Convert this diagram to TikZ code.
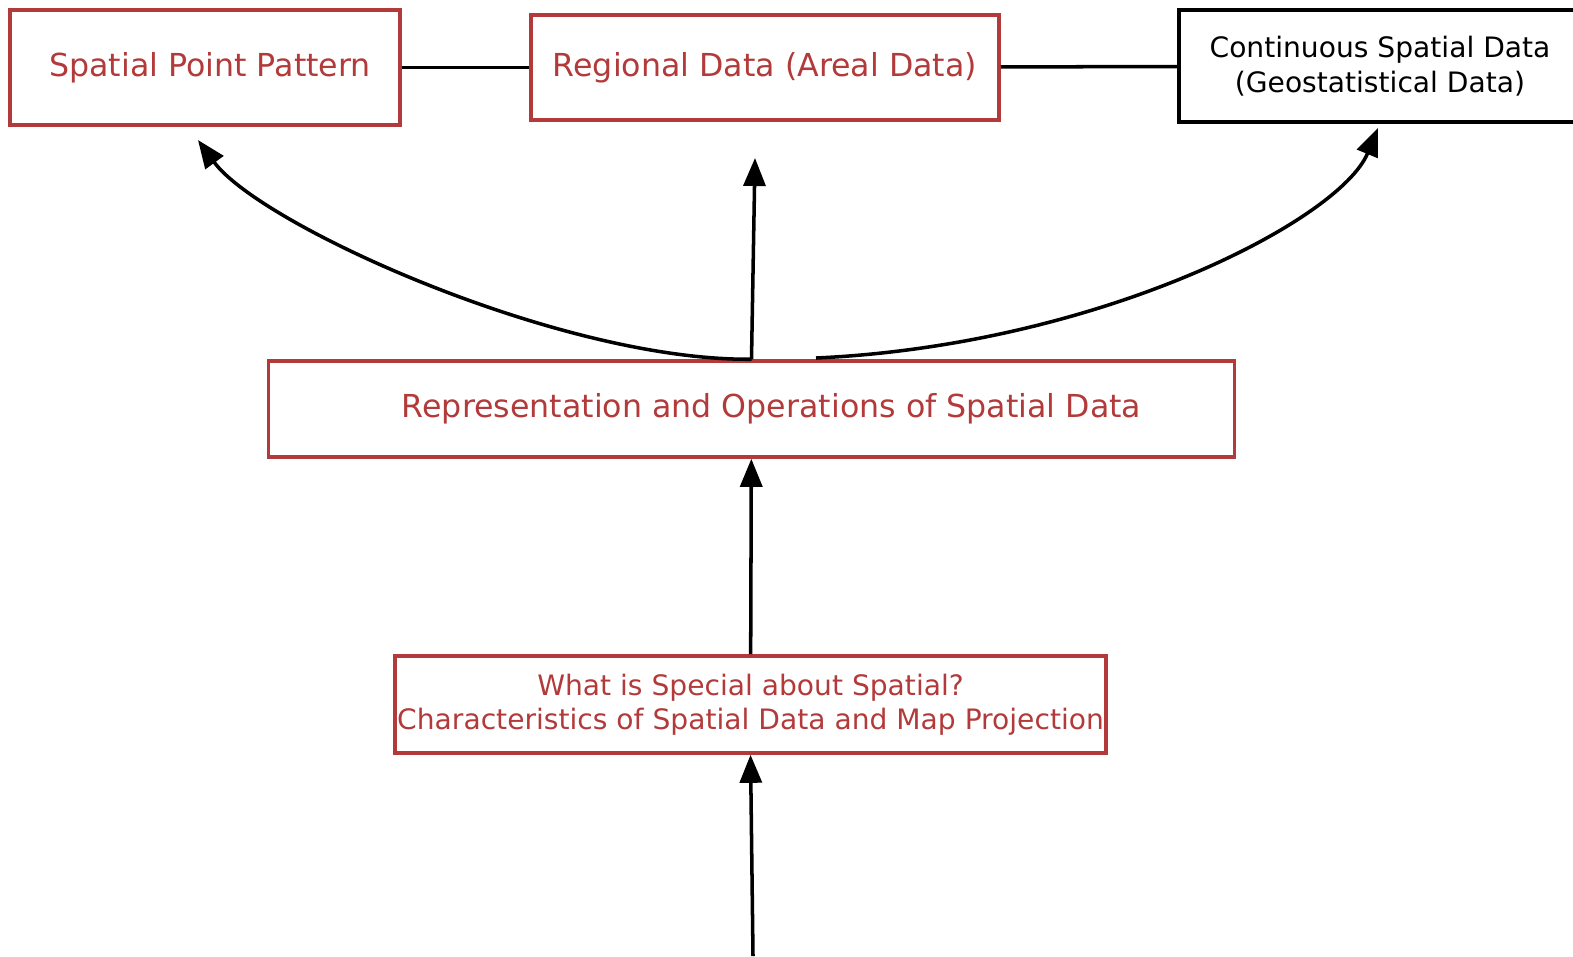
\documentclass[tikz,border=0pt]{standalone}
\usepackage{fontspec}
\setmainfont{DejaVu Sans}
\usepackage{tikz}
\usetikzlibrary{arrows.meta}
\definecolor{topicred}{RGB}{178,58,58}
\tikzstyle{topic} = [draw=topicred, text=topicred, line width=1pt, align=center, inner sep=0pt, font=\fontsize{9}{10.5}\selectfont]
\tikzstyle{plain} = [draw=black, text=black, line width=1pt, align=center, inner sep=0pt, font=\fontsize{8}{10}\selectfont]
\tikzstyle{link} = [draw, line width=1pt]
\tikzstyle{flow} = [draw, line width=1pt, -{Triangle[length=2.8mm,width=2.2mm]}]

\begin{document}
\begin{tikzpicture}[x=0.01cm, y=-0.01cm]
	\useasboundingbox (0,0) rectangle (1573,956);
	\node[topic, minimum width=3.9cm, minimum height=1.15cm] (pointPattern) at (205,67.5) {\hspace*{0.1cm}Spatial Point Pattern};
	\node[topic, minimum width=4.68cm, minimum height=1.05cm] (regional) at (765,67.5) {Regional Data (Areal Data)};
	\node[plain, minimum width=4.02cm, minimum height=1.12cm] (continuous) at (1380,66) {Continuous Spatial Data\\(Geostatistical Data)};
	\node[topic, minimum width=9.65cm, minimum height=0.96cm] (representation) at (751.5,409) {\hspace*{0.4cm}Representation and Operations of Spatial Data};
	\node[topic, minimum width=7.11cm, minimum height=0.97cm, font=\fontsize{8}{9.7}\selectfont] (special) at (750.5,704.5) {What is Special about Spatial?\\Characteristics of Spatial Data and Map Projection};
	
	\coordinate (pointIn) at (198,140);
	\coordinate (regionalIn) at (755,158);
	\coordinate (continuousIn) at (1378,128);
	\coordinate (repOut) at (816,358);
	\coordinate (start) at (753,956);
	
	\path[link] (pointPattern) -- (regional);
	\path[link] (regional) -- (continuous);
	\path[flow] (representation.north) -- (regionalIn);
	\path[flow] (representation.north) .. controls (560,361) and (260,225) .. (pointIn);
	\path[flow] (repOut) .. controls (1100,345) and (1340,220) .. (continuousIn);
	\path[flow] (special) -- (representation);
	\path[flow] (start) -- (special.south);
\end{tikzpicture}
\end{document}
